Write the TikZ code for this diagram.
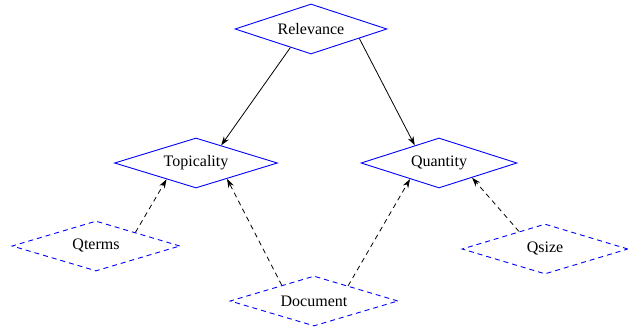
\documentclass[tikz,border=0pt]{standalone}
\usepackage{fontspec}
\setmainfont{Liberation Serif}
\usetikzlibrary{shapes.geometric,arrows.meta}

\begin{document}
\begin{tikzpicture}[x = 1pt, y = -1pt,
    factor/.style = {diamond, aspect=3.3, draw=blue, line width=.9pt, inner sep=0pt,
      minimum height=50pt, font=\fontsize{16}{19}\selectfont},
    evidence/.style = {factor, dash pattern=on 5pt off 4pt},
    link/.style = {line width=.8pt, -{Stealth[length=9pt,width=6pt]}},
    cue/.style = {link, dash pattern=on 5pt off 4pt}]
        \useasboundingbox (0,0) rectangle (642,336);
        \node[factor, minimum width=152pt] (rel) at (311,29) {Relevance};
        \node[factor, minimum width=163pt] (top) at (196,163) {Topicality};
        \node[factor, minimum width=156pt] (quan) at (439,163) {Quantity};
        \node[evidence, minimum width=168pt] (qterms) at (96,246) {Qterms};
        \node[evidence, minimum width=168pt] (doc) at (314,301) {Document};
        \node[evidence, minimum width=166pt] (qsize) at (545,249) {Qsize};
        \draw[link] (rel.222) -- (top.35);
        \draw[link] (rel.349) -- (quan.144);
        \draw[cue] (qterms.19) -- (top.209);
        \draw[cue] (doc.154) -- (top.333);
        \draw[cue] (doc.24) -- (quan.209);
        \draw[cue] (qsize.146) -- (quan.336);
      \end{tikzpicture}
\end{document}
